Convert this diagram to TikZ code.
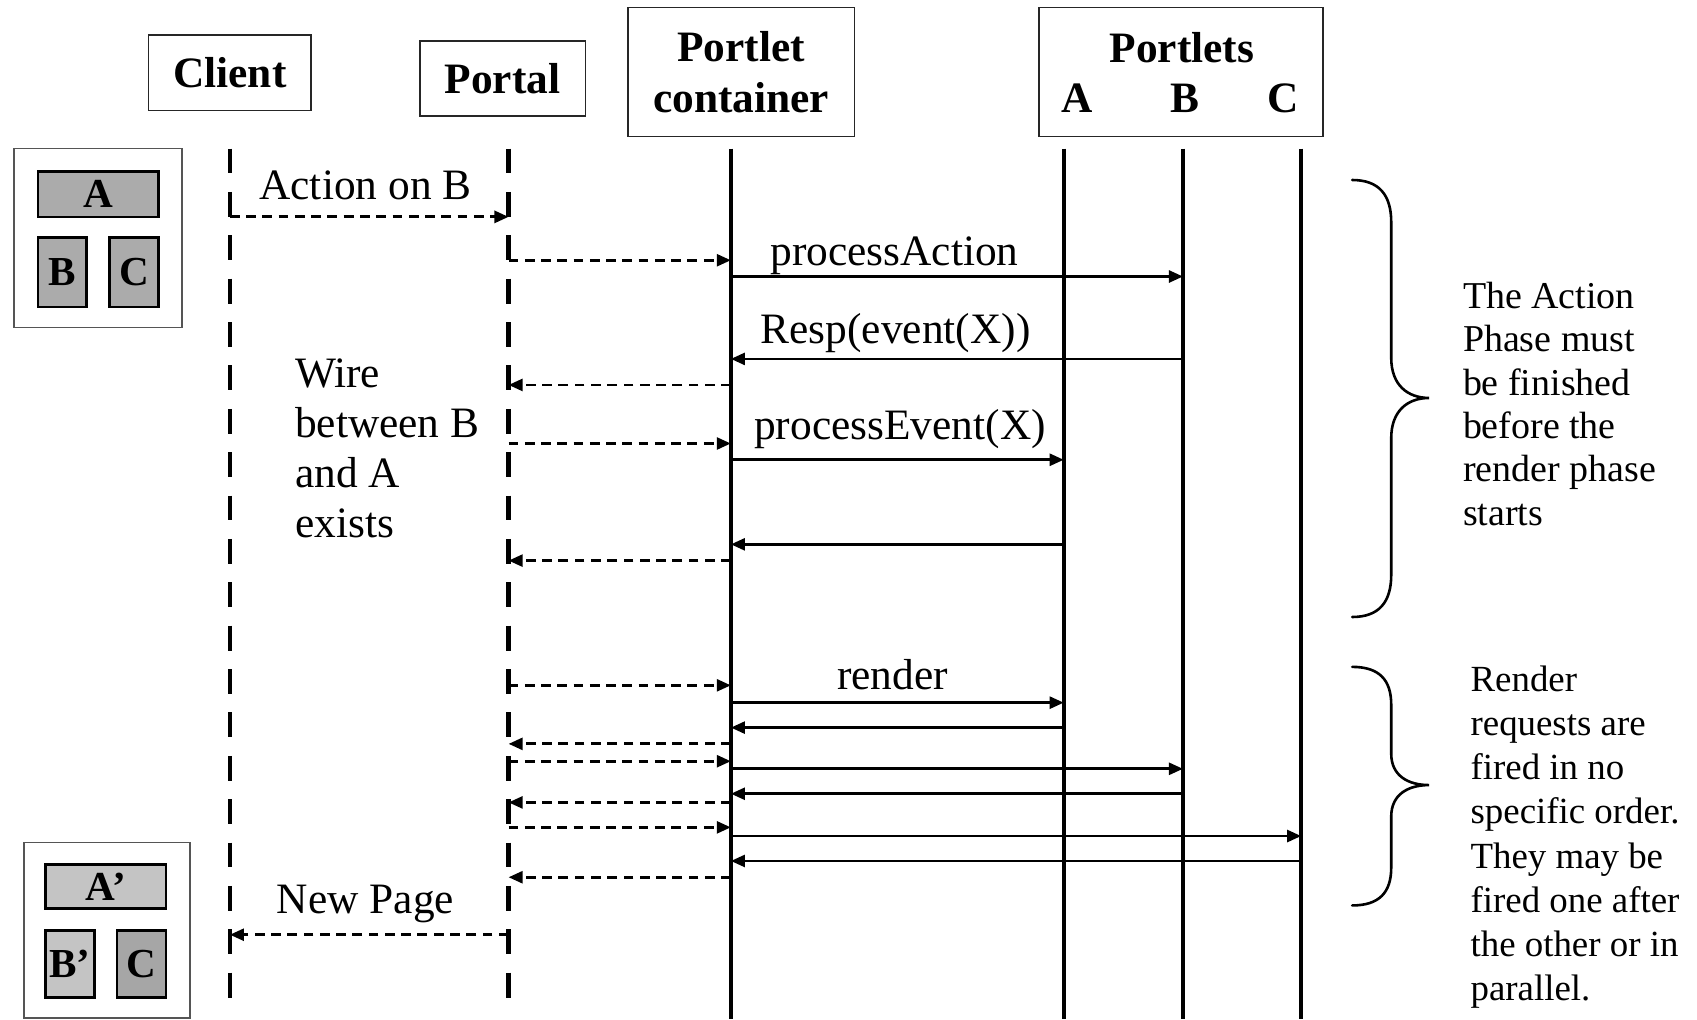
\documentclass[tikz,border=0pt]{standalone}
\usepackage{fontspec}
\setmainfont{Liberation Serif}
\usetikzlibrary{arrows.meta}
\definecolor{paneA}{HTML}{ABABAB}
\definecolor{paneL}{HTML}{C4C4C4}
\definecolor{paneD}{HTML}{A6A6A6}
\definecolor{frame}{HTML}{555555}
\begin{document}
\begin{tikzpicture}[x=1pt,y=-1pt,
  hfont/.style={font=\fontsize{40}{47}\selectfont\bfseries},
  hdr/.style={draw=black!85, line width=1.6pt, hfont, inner sep=0pt, align=center},
  lbl/.style={font=\fontsize{40}{46}\selectfont, inner sep=0pt, anchor=base},
  note/.style={inner sep=0pt, anchor=north west, align=left},
  dline/.style={line width=4pt, dash pattern=on 23pt off 17pt},
  sline/.style={line width=3.5pt},
  tip/.style={-{Triangle[length=13pt,width=11pt]}},
  dmsg/.style={line width=2.6pt, dash pattern=on 9pt off 6pt, tip},
  smsg/.style={line width=2.6pt, tip},
  scr/.style={draw=frame, line width=1.6pt, inner sep=0pt},
  pane/.style={draw=black, line width=2.4pt, inner sep=0pt, font=\fontsize{38}{40}\selectfont\bfseries},
  brc/.style={line width=2.4pt, line cap=round},
]
\useasboundingbox (0,0) rectangle (1565,940);

% ---------- headers ----------
\node[hdr, minimum width=150pt, minimum height=70pt] (client) at (212,67) {Client};
\node[hdr, minimum width=153pt, minimum height=69pt] (portal) at (463.5,72.5) {Portal};
\node[hdr, minimum width=209pt, minimum height=119pt] (cont) at (683.5,66.5) {Portlet\\container};
\node[hdr, minimum width=262pt, minimum height=119pt] (plets) at (1089,66.5) {};
\node[hfont, inner sep=0pt, anchor=base] (pletsT) at (1090,58) {Portlets};
\node[hfont, inner sep=0pt, anchor=base] (hA) at (993,104) {A};
\node[hfont, inner sep=0pt, anchor=base] (hB) at (1093,104) {B};
\node[hfont, inner sep=0pt, anchor=base] (hC) at (1183,104) {C};

% ---------- lifelines ----------
\coordinate (clT) at (212,137);  \coordinate (clB) at (212,934);
\coordinate (poT) at (469,137);  \coordinate (poB) at (469,934);
\coordinate (pcT) at (674,137);  \coordinate (pcB) at (674,940);
\coordinate (aT)  at (981,137);  \coordinate (aB)  at (981,940);
\coordinate (bT)  at (1091,137); \coordinate (bB)  at (1091,940);
\coordinate (cT)  at (1200,137); \coordinate (cB)  at (1200,940);
\draw[dline] (clT) -- (clB);
\draw[dline] (poT) -- (poB);
\draw[sline] (pcT) -- (pcB);
\draw[sline] (aT) -- (aB);
\draw[sline] (bT) -- (bB);
\draw[sline] (cT) -- (cB);

% ---------- action phase ----------
\draw[dmsg] (clT |- 0,200) -- (poT |- 0,200);
\node[lbl] (tAct) at (337,184) {Action on B};
\draw[dmsg] (poT |- 0,240) -- (pcT |- 0,240);
\draw[smsg] (pcT |- 0,255) -- (bT |- 0,255);
\node[lbl] (tPA) at (825,245) {processAction};
\draw[smsg] (bT |- 0,331) -- (pcT |- 0,331);
\node[lbl] (tResp) at (826,317) {Resp(event(X))};
\draw[dmsg] (pcT |- 0,355) -- (poT |- 0,355);
\draw[dmsg] (poT |- 0,409) -- (pcT |- 0,409);
\draw[smsg] (pcT |- 0,424) -- (aT |- 0,424);
\node[lbl] (tPE) at (830,405) {processEvent(X)};
\draw[smsg] (aT |- 0,502) -- (pcT |- 0,502);
\draw[dmsg] (pcT |- 0,517) -- (poT |- 0,517);
\node[note, font=\fontsize{40}{46}\selectfont] (wire) at (272,331) {Wire\\between B\\and A\\exists};

% ---------- render phase ----------
\draw[dmsg] (poT |- 0,632) -- (pcT |- 0,632);
\draw[smsg] (pcT |- 0,648) -- (aT |- 0,648);
\node[lbl] (tRender) at (823,636) {render};
\draw[smsg] (aT |- 0,671) -- (pcT |- 0,671);
\draw[dmsg] (pcT |- 0,686) -- (poT |- 0,686);
\draw[dmsg] (poT |- 0,702) -- (pcT |- 0,702);
\draw[smsg] (pcT |- 0,709) -- (bT |- 0,709);
\draw[smsg] (bT |- 0,732) -- (pcT |- 0,732);
\draw[dmsg] (pcT |- 0,740) -- (poT |- 0,740);
\draw[dmsg] (poT |- 0,763) -- (pcT |- 0,763);
\draw[smsg] (pcT |- 0,771) -- (cT |- 0,771);
\draw[smsg] (cT |- 0,794) -- (pcT |- 0,794);
\draw[dmsg] (pcT |- 0,809) -- (poT |- 0,809);
\draw[dmsg] (poT |- 0,862) -- (clT |- 0,862);
\node[lbl] (tNew) at (337,842) {New Page};

% ---------- braces ----------
\draw[brc] (1247,166) .. controls (1272,166) and (1283,180) .. (1283,205)
  -- (1283,330) .. controls (1283,355) and (1298,367) .. (1318,367)
  .. controls (1298,367) and (1283,379) .. (1283,404)
  -- (1283,530) .. controls (1283,555) and (1272,569) .. (1247,569);
\draw[brc] (1247,615) .. controls (1272,615) and (1283,627) .. (1283,650)
  -- (1283,695) .. controls (1283,715) and (1298,724) .. (1318,724)
  .. controls (1298,724) and (1283,733) .. (1283,753)
  -- (1283,800) .. controls (1283,823) and (1272,835) .. (1247,835);
\node[note, font=\fontsize{35}{40}\selectfont] (nAct) at (1349,260)
  {The Action\\Phase must\\be finished\\before the\\render phase\\starts};
\node[note, font=\fontsize{34}{40.7}\selectfont] (nRen) at (1356,614)
  {Render\\requests are\\fired in no\\specific order.\\They may be\\fired one after\\the other or in\\parallel.};

% ---------- screens ----------
\node[scr, minimum width=155pt, minimum height=165pt] (scr1) at (90.5,219.5) {};
\node[pane, fill=paneA, minimum width=111pt, minimum height=42pt] (s1a) at (90.5,179) {A};
\node[pane, fill=paneA, minimum width=45pt, minimum height=64pt] (s1b) at (57.5,251) {B};
\node[pane, fill=paneA, minimum width=45pt, minimum height=64pt] (s1c) at (123.5,251) {C};
\node[scr, minimum width=153pt, minimum height=162pt] (scr2) at (98.5,858) {};
\node[pane, fill=paneL, minimum width=111pt, minimum height=41pt] (s2a) at (97.5,817.5) {A’};
\node[pane, fill=paneL, minimum width=45pt, minimum height=62pt] (s2b) at (64.5,889) {B’};
\node[pane, fill=paneD, minimum width=45pt, minimum height=62pt] (s2c) at (130.5,889) {C};
\end{tikzpicture}
\end{document}
